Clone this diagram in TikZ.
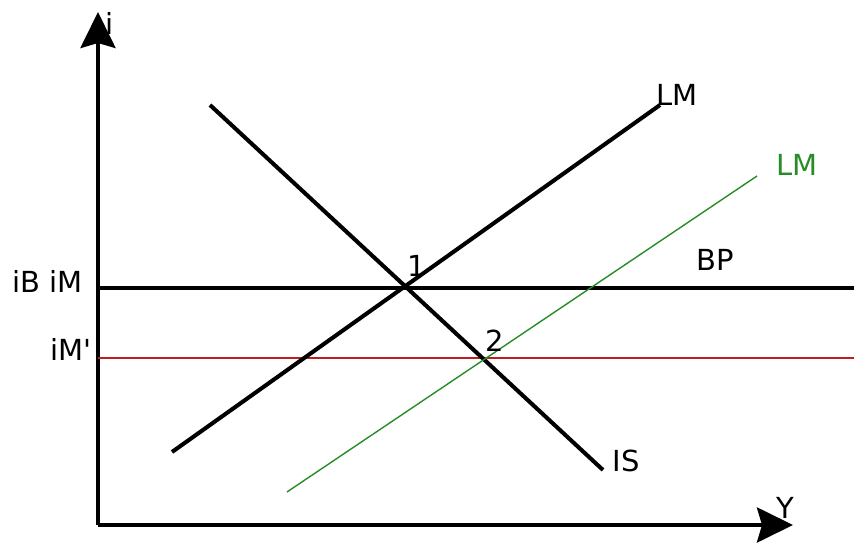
\documentclass[tikz,border=0pt]{standalone}
\usepackage{fontspec}
\setmainfont{DejaVu Sans}
\usepackage{xcolor}
\usepackage{tikz}
\usetikzlibrary{arrows.meta, positioning}

\definecolor{lmgreen}{RGB}{40,140,40}
\definecolor{bpred}{RGB}{190,30,30}

\begin{document}
\begin{tikzpicture}[>=Stealth, font=\fontsize{16.5}{19}\selectfont,
  curve/.style={black, line width=2.3pt},
  shifted/.style={line width=0.8pt},
  axis/.style={curve, -{Stealth[length=0.72cm, width=0.7cm, inset=0.1cm]}}]

\useasboundingbox (0,0) rectangle (17.08,10.9);

\coordinate (O)    at (1.96, 0.40);
\coordinate (Itop) at (1.96,10.66);
\coordinate (Yend) at (15.86,0.40);

%-- axes
\draw[axis] (O)--(Itop);
\draw[axis] (O)--(Yend);
\node (lbli) at (2.2,10.44) {i};
\node (lblY) at (15.7,0.74) {Y};

%-- horizontal rates
\coordinate (BPa) at (1.96,5.14);
\coordinate (BPb) at (17.08,5.14);
\coordinate (Ra)  at (1.96,3.74);
\coordinate (Rb)  at (17.08,3.74);
\draw[curve] (BPa)--(BPb);
\draw[shifted, bpred] (Ra)--(Rb);
\node (lblBP) at (14.3,5.7) {BP};
\node[anchor=east, inner sep=0pt] (lbliB) at (1.66,5.28) {iB iM};
\node[anchor=east, inner sep=0pt] (lbliM) at (1.84,3.92) {iM\textquotesingle};

%-- IS and LM curves
\coordinate (ISa)  at (4.2, 8.8);
\coordinate (ISb)  at (12.06,1.5);
\coordinate (LMa)  at (3.44,1.86);
\coordinate (LMb)  at (13.2, 8.8);
\coordinate (LM2a) at (5.74,1.06);
\coordinate (LM2b) at (15.14,7.38);

\draw[curve] (ISa)--(ISb);
\draw[curve] (LMa)--(LMb);
\draw[shifted, lmgreen] (LM2a)--(LM2b);

\node (lblIS)  at (12.52,1.68) {IS};
\node (lblLM)  at (13.54,9.0)  {LM};
\node[lmgreen] (lblLM2) at (15.94,7.6) {LM};

%-- equilibria
\node (pt1) at (8.34,5.58) {1};
\node (pt2) at (9.9,4.08)  {2};

\end{tikzpicture}
\end{document}
